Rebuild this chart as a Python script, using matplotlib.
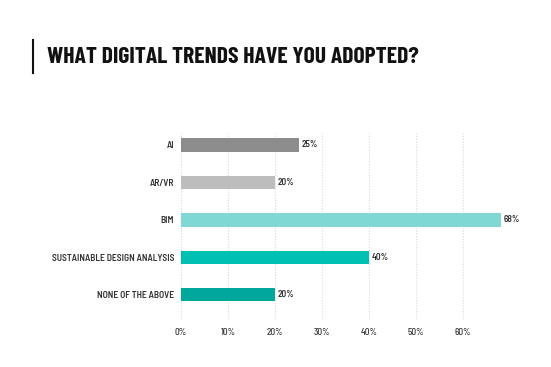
import matplotlib
matplotlib.use("Agg")
import matplotlib.pyplot as plt
from matplotlib.lines import Line2D

categories = ["AI", "AR/VR", "BIM", "SUSTAINABLE DESIGN ANALYSIS", "NONE OF THE ABOVE"]
values = [25, 20, 68, 40, 20]
value_labels = ["25%", "20%", "68%", "40%", "20%"]
colors = ["#8c8c8c", "#bdbdbd", "#7fd8d4", "#00bfb3", "#00a89c"]
xticks = [0, 10, 20, 30, 40, 50, 60]
xtick_labels = ["0%", "10%", "20%", "30%", "40%", "50%", "60%"]
title = "WHAT DIGITAL TRENDS HAVE YOU ADOPTED?"

LABEL_FONT = ['Barlow Semi Condensed', 'DejaVu Sans']
TITLE_FONT = ['Barlow Condensed', 'DejaVu Sans']
plt.rcParams['font.family'] = LABEL_FONT

fig = plt.figure(figsize=(5.51, 3.67), dpi=100)
fig.patch.set_facecolor("white")
ax = fig.add_axes([181/551, 1-320/367, (510-181)/551, (320-133)/367])

ypos = list(range(len(categories)))
ax.barh(ypos, values, height=0.35, color=colors, zorder=3)
for y, v, lab in zip(ypos, values, value_labels):
    ax.text(v + 0.6, y, lab, va="center", ha="left", fontsize=6.7,
            fontweight=600, color="#333333")

ax.set_xlim(0, 70)
ax.set_ylim(4.67, -0.32)
ax.set_yticks(ypos)
ax.set_yticklabels(categories, fontsize=6.8, fontweight=600, color="#333333")
ax.set_xticks(xticks)
ax.set_xticklabels(xtick_labels, fontsize=6.7, fontweight=500, color="#333333")
ax.tick_params(axis="both", length=0)
ax.tick_params(axis="y", pad=5)
ax.tick_params(axis="x", pad=6)
for s in ax.spines.values():
    s.set_visible(False)
for t in xticks:
    ax.axvline(t, color="#d8d8d8", linestyle=(0, (1, 1.5)), linewidth=0.8, zorder=1)

fig.add_artist(Line2D([33/551, 33/551], [1-40/367, 1-73/367], color="#111111", linewidth=1.5))
fig.text(47/551, 1-57/367, title, fontsize=17, fontweight=700, family=TITLE_FONT,
         va="center", ha="left", color="#111111")

fig.savefig("out.png", dpi=100)
